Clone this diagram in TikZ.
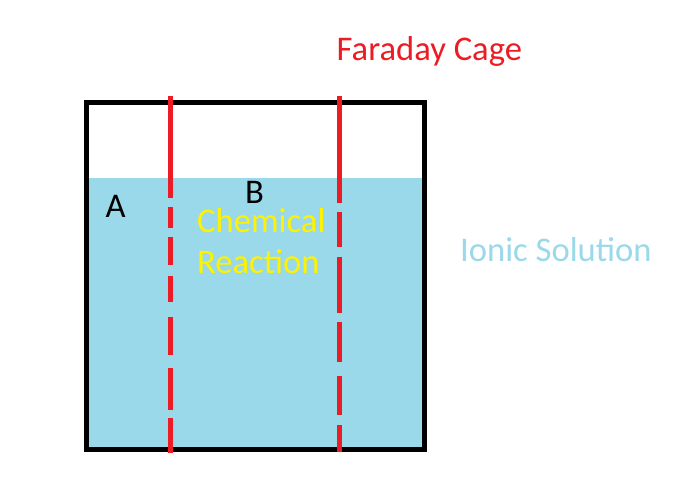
\documentclass[tikz,border=0pt]{standalone}
\usepackage{fontspec}
\setmainfont{Carlito}
\definecolor{cagered}{RGB}{237,28,36}
\definecolor{solblue}{RGB}{153,217,234}
\definecolor{reacyellow}{RGB}{255,242,0}
\tikzset{
  lbl/.style={anchor=base west, inner sep=0pt, font=\fontsize{34.6}{40}\selectfont},
  cage/.style={draw=cagered, line width=5pt},
  wall/.style={draw=black, line width=5pt}
}
\begin{document}
\begin{tikzpicture}[x=1pt,y=-1pt]
\useasboundingbox[fill=white] (0,0) rectangle (683,483);
% solution
\fill[solblue] (86.5,177.5) rectangle (424.5,449.5);
% container
\draw[wall] (86.5,102.5) rectangle (424.5,449.5);
% cage line 1
\foreach \a/\b in {96/198.3, 206.7/228.3, 236.7/265, 275.7/301.7, 316.7/355, 368.3/410, 418.3/452.7}
  \draw[cage] (170,\a) -- (170,\b);
% cage line 2
\foreach \a/\b in {96/203.3, 211.7/246.7, 256.7/312.7, 321.7/361.7, 376/415, 425/451.7}
  \draw[cage] (339.5,\a) -- (339.5,\b);
% labels
\node[lbl, text=cagered] (fc) at (336.5,60.7) {Faraday Cage};
\node[lbl, text=solblue] (ion) at (460,261) {Ionic Solution};
\node[lbl, text=reacyellow] (chem) at (197,232.8) {Chemical};
\node[lbl, text=reacyellow] (reac) at (197,273.5) {Reaction};
\node[lbl, text=black] (A) at (105.5,217.7) {A};
\node[lbl, text=black] (B) at (245,203.3) {B};
\end{tikzpicture}
\end{document}
